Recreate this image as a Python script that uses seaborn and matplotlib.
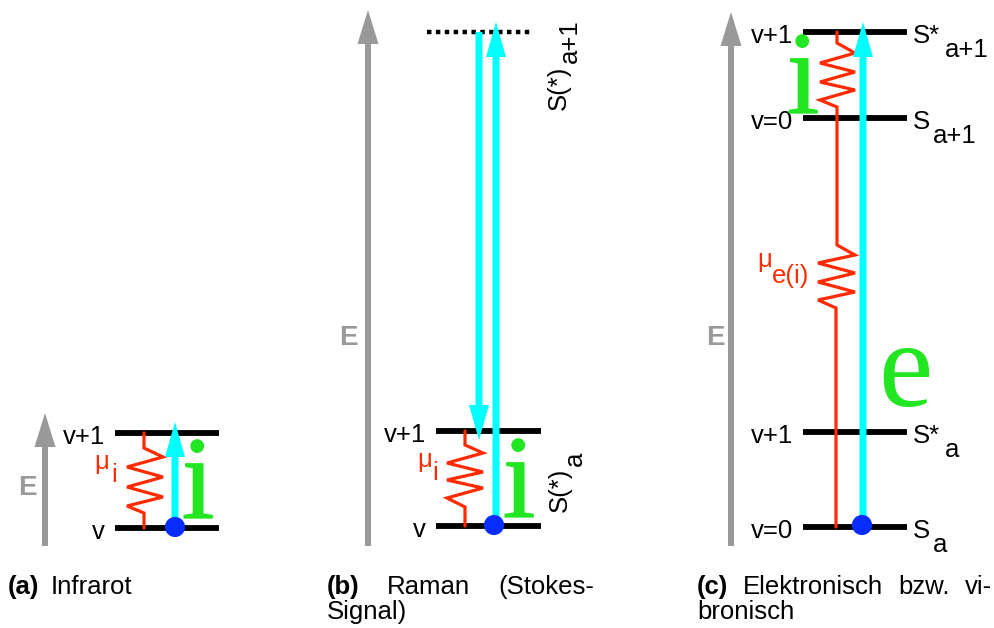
import matplotlib
matplotlib.use("Agg")
import matplotlib.pyplot as plt
from matplotlib.patches import FancyArrow
import matplotlib.patheffects as pe
import seaborn as sns
import pandas as pd

# ---------------- data (pixel layout of the energy diagrams) ----------------
# Energy axes (gray arrows): x, bottom, top ; "E" label position
E_axis_x = [45, 368, 731]
E_axis_bottom = [546, 546, 546]
E_axis_top = [413, 10, 12]
E_label_x = [27, 348, 715]
E_label_y = [495, 345, 345]

# Energy levels: (panel, y, x_start, x_end, left label, right label)
level_panel = ["a", "a", "b", "b", "c", "c", "c", "c"]
level_y = [433, 528, 431, 526, 32, 118, 432, 527]
level_x0 = [115, 115, 436, 436, 803, 803, 803, 803]
level_x1 = [219, 219, 541, 541, 907, 907, 907, 907]
level_left_label = ["v+1", "v", "v+1", "v", "v+1", "v=0", "v+1", "v=0"]
level_right_main = ["", "", "", "", "S*", "S", "S*", "S"]
level_right_sub = ["", "", "", "", "a+1", "a+1", "a", "a"]

# Virtual level (Raman) dotted
virtual_y = 32
virtual_x = [427, 530]

# Red vibrational zigzags
zig_a_x = [144, 144, 163, 127, 163, 127, 163, 127, 144, 144]
zig_a_y = [433, 448, 457, 467, 477, 487, 497, 506, 513, 528]
zig_b_x = [465, 465, 483, 447, 483, 447, 483, 447, 465, 465]
zig_b_y = [431, 445, 453, 463, 472, 480, 488, 498, 507, 526]
zig_c_x = [836, 836, 818, 855, 818, 855, 818, 855, 837, 837, 820, 855, 820, 855, 820, 855, 837, 837]
zig_c_y = [527, 308, 300, 292, 282, 273, 263, 255, 245, 107, 100, 90, 82, 72, 63, 53, 43, 32]

# Cyan transitions: x, start y, end y (tip)
photon_x = [175, 496, 479, 863]
photon_y0 = [527, 525, 32, 525]
photon_y1 = [422, 22, 440, 22]

# Blue initial-state dots
dot_x = [175, 494, 862]
dot_y = [527, 525, 525]

# Green symbols: letter, x, baseline y
green_letters = ["i", "i", "i", "e"]
green_x = [198, 519, 803, 905]
green_y = [518, 517, 113, 406]
green_size = [85, 85, 85, 88]

# Captions (justified lines: first word left, last word right)
cap_line1 = [["(a)", "Infrarot"],
             ["(b)", "Raman", "(Stokes-"],
             ["(c)", "Elektronisch", "bzw.", "vi-"]]
cap_line2 = ["", "Signal)", "bronisch"]
cap_left = [8, 327, 697]
cap_right = [None, 594, 992]

# ---------------- styling ----------------
sns.set_theme(style="white")
plt.rcParams["font.family"] = ["Liberation Sans", "DejaVu Sans"]
plt.rcParams["text.color"] = "black"

GRAY = "#999999"
CYAN = "#00ffff"
RED = "#ff2a00"
BLUE = "#0a2dff"
GREEN = "#22e622"
FS = 18.5

fig = plt.figure(figsize=(9.95, 6.28), dpi=100)
ax = fig.add_axes([0, 0, 1, 1])


def frame():
    ax.set_xlim(0, 995)
    ax.set_ylim(628, 0)
    ax.axis("off")


frame()

# gray energy axes
for x, yb, yt, lx, ly in zip(E_axis_x, E_axis_bottom, E_axis_top, E_label_x, E_label_y):
    ax.add_patch(FancyArrow(x, yb, 0, yt - yb, width=6, head_width=21, head_length=34,
                            length_includes_head=True, color=GRAY, lw=0, zorder=1))
    ax.text(lx, ly, "E", color=GRAY, fontsize=20, fontweight="bold", ha="center", va="baseline")

# energy levels + labels
for p, y, x0, x1, ll, rm, rs in zip(level_panel, level_y, level_x0, level_x1,
                                     level_left_label, level_right_main, level_right_sub):
    ax.plot([x0, x1], [y, y], color="black", lw=4.2, solid_capstyle="butt", zorder=2)
    ax.text(x0 - 10, y + 11, ll, ha="right", va="baseline", fontsize=FS, color="black")
    if rm:
        ax.text(913, y + 11, rm, ha="left", va="baseline", fontsize=FS, color="black")
        sx = 945 if "*" in rm else 933
        ax.text(sx, y + 25, rs, ha="left", va="baseline", fontsize=FS, color="black")

# virtual level
ax.plot(virtual_x, [virtual_y, virtual_y], color="black", lw=3.2,
        linestyle=(0, (1.0, 1.0)), dash_capstyle="butt", zorder=2)

# rotated Raman labels
ax.text(566, 110, "S(*)", rotation=90, rotation_mode="anchor", ha="left", va="baseline", fontsize=FS)
ax.text(577, 63, "a+1", rotation=90, rotation_mode="anchor", ha="left", va="baseline", fontsize=FS)
ax.text(567, 512, "S(*)", rotation=90, rotation_mode="anchor", ha="left", va="baseline", fontsize=FS)
ax.text(582, 466, "a", rotation=90, rotation_mode="anchor", ha="left", va="baseline", fontsize=FS)

# red zigzags via seaborn
zig = pd.concat([
    pd.DataFrame({"x": zig_a_x, "y": zig_a_y, "g": "a"}),
    pd.DataFrame({"x": zig_b_x, "y": zig_b_y, "g": "b"}),
    pd.DataFrame({"x": zig_c_x, "y": zig_c_y, "g": "c"}),
])
n_before = len(ax.lines)
for g, d in zig.groupby("g"):
    sns.lineplot(data=d, x="x", y="y", sort=False, estimator=None, color=RED, lw=2.3,
                 ax=ax, zorder=3, legend=False)
for line in ax.lines[n_before:]:
    line.set_solid_joinstyle("miter")
frame()

# mu labels
ax.text(94, 469, "\u03bc", color=RED, fontsize=FS, ha="left", va="baseline")
ax.text(111, 482, "i", color=RED, fontsize=FS, ha="left", va="baseline")
ax.text(417, 467, "\u03bc", color=RED, fontsize=FS, ha="left", va="baseline")
ax.text(432, 480, "i", color=RED, fontsize=FS, ha="left", va="baseline")
ax.text(757, 267, "\u03bc", color=RED, fontsize=FS, ha="left", va="baseline")
ax.text(772, 283, "e(i)", color=RED, fontsize=FS, ha="left", va="baseline")

# cyan photon arrows
for x, y0, y1 in zip(photon_x, photon_y0, photon_y1):
    ax.add_patch(FancyArrow(x, y0, 0, y1 - y0, width=7, head_width=20, head_length=35,
                            length_includes_head=True, color=CYAN, lw=0, zorder=4))

# blue dots via seaborn
sns.scatterplot(x=dot_x, y=dot_y, s=210, color=BLUE, edgecolor="none", ax=ax, zorder=5, legend=False)
frame()

# green symbols
for s, x, y, fs in zip(green_letters, green_x, green_y, green_size):
    t = ax.text(x, y, s, color=GREEN, fontsize=fs, family="Liberation Serif",
                ha="center", va="baseline", zorder=6)
    if s == "i":
        t.set_path_effects([pe.withStroke(linewidth=0.9, foreground=GREEN)])

# captions (justified)
fig.canvas.draw()
renderer = fig.canvas.get_renderer()


def width_px(txt, bold=False):
    t = ax.text(0, 0, txt, fontsize=FS, fontweight="bold" if bold else "normal")
    bb = t.get_window_extent(renderer=renderer)
    t.remove()
    return bb.width


for words, left, right, l2 in zip(cap_line1, cap_left, cap_right, cap_line2):
    widths = [width_px(w, bold=(i == 0)) for i, w in enumerate(words)]
    if right is None:
        gap = width_px(" ") * 1.6
    else:
        gap = (right - left - sum(widths)) / (len(words) - 1)
    x = left
    for i, (w, wd) in enumerate(zip(words, widths)):
        ax.text(x, 594, w, fontsize=FS, fontweight="bold" if i == 0 else "normal",
                ha="left", va="baseline")
        x += wd + gap
    if l2:
        ax.text(left, 619, l2, fontsize=FS, ha="left", va="baseline")

frame()
fig.savefig("out.png", dpi=100)
